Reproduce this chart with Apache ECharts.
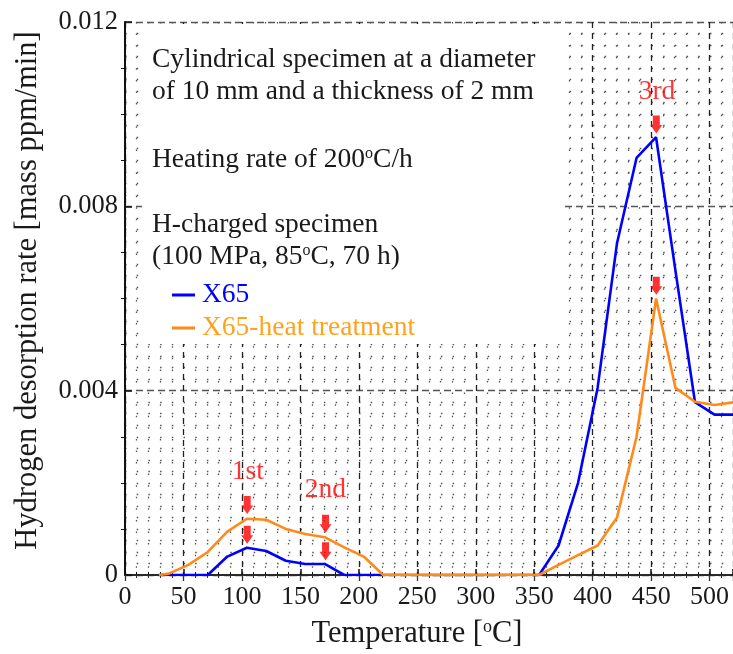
<!DOCTYPE html>
<html>
<head>
<meta charset="utf-8">
<script src="https://cdn.jsdelivr.net/npm/echarts@6/dist/echarts.min.js"></script>
<style>html,body{margin:0;padding:0;background:#fff;}#c{width:733px;height:654px;}</style>
</head>
<body>
<div id="c"></div>
<script>
// ---- data ----
var temperature = [29, 37.5, 54.2, 70.8, 87.5, 104.2, 120.8, 137.5, 154.2, 170.8, 187.5, 204.2, 220.8, 237.5, 254.2, 270.8, 287.5, 304.2, 320.8, 337.5, 354.2, 370.8, 387.5, 404.2, 420.8, 437.5, 454.2, 470.8, 487.5, 504.2, 520.8];
var x65 = [0, 0, 0, 0, 0.0004, 0.00059, 0.00052, 0.00031, 0.00024, 0.00024, 0, 0, 0, 0, 0, 0, 0, 0, 0, 0, 0, 0.00064, 0.002, 0.00406, 0.0072, 0.00905, 0.0095, 0.0066, 0.00375, 0.00348, 0.00348];
var x65Heat = [0, 0.00003, 0.00022, 0.0005, 0.00094, 0.00122, 0.0012, 0.001, 0.00089, 0.00082, 0.0006, 0.0004, 0, 0, 0, 0, 0, 0, 0, 0, 0, 0.00022, 0.00043, 0.00064, 0.00125, 0.003, 0.006, 0.00406, 0.00376, 0.00369, 0.00375];
var seriesNames = ['X65', 'X65-heat treatment'];
var peakArrowT = [104.5, 104.5, 171.5, 171.5, 454.4, 454.4];
var peakArrowV = [0.000677, 0.001326, 0.000318, 0.000915, 0.00958, 0.00608];
var peakLabels = ['1st', '2nd', '3rd'];
var peakLabelT = [105, 171.4, 455];
var peakLabelV = [0.00223, 0.00184, 0.01048];
var noteLines = ['Cylindrical specimen at a diameter', 'of 10 mm and a thickness of 2 mm', 'Heating rate of 200{s|o}C/h', 'H-charged specimen', '(100 MPa, 85{s|o}C, 70 h)'];
var xTickInterval = 50, yTickInterval = 0.004;

function pairs(xs, ys) { return xs.map(function (x, i) { return [x, ys[i]]; }); }

var FONT = '"Liberation Serif", "Times New Roman", serif';
var chart = echarts.init(document.getElementById('c'), null, {renderer: 'canvas'});

var noteY = [60, 92, 160, 225, 257];
var graphics = [{
  type: 'rect', z: 1, silent: true,
  shape: {x: 142, y: 24, width: 421, height: 320},
  style: {fill: '#ffffff'}
}];
noteLines.forEach(function (t, i) {
  graphics.push({
    type: 'text', z: 3, silent: true, x: 152, y: noteY[i],
    style: {
      text: t, fontFamily: FONT, fontSize: 27.5, fill: '#1a1a1a', verticalAlign: 'middle',
      rich: {s: {fontFamily: FONT, fontSize: 16, fill: '#1a1a1a', verticalAlign: 'top', lineHeight: 14}}
    }
  });
});

var option = {
  animation: false,
  backgroundColor: '#ffffff',
  grid: {left: 125, top: 22, right: 0, bottom: 76, containLabel: false},
  legend: {
    orient: 'vertical', left: 167, top: 276, itemWidth: 23, itemHeight: 3, itemGap: 5,
    icon: 'rect', selectedMode: false,
    textStyle: {fontFamily: FONT, fontSize: 27.5, padding: [0, 0, 0, 2]},
    data: [
      {name: seriesNames[0], textStyle: {color: '#0000ff'}},
      {name: seriesNames[1], textStyle: {color: '#ffa31f'}}
    ]
  },
  graphic: graphics,
  xAxis: [{
    type: 'value', min: 0, max: 520, interval: xTickInterval,
    name: 'Temperature [{s|o}C]', nameLocation: 'middle', nameGap: 43,
    nameTextStyle: {fontFamily: FONT, fontSize: 30.5, color: '#1a1a1a', padding: [0, 24, 0, 0],
      rich: {s: {fontFamily: FONT, fontSize: 18, color: '#1a1a1a', verticalAlign: 'top', lineHeight: 16}}},
    axisLine: {show: true, lineStyle: {color: '#111', width: 2}},
    axisTick: {show: true, inside: true, length: 6, lineStyle: {color: '#111', width: 1.5}},
    minorTick: {show: true, splitNumber: 5, length: 3, lineStyle: {color: '#111', width: 1}},
    axisLabel: {fontFamily: FONT, fontSize: 26, color: '#1a1a1a', margin: 9, showMaxLabel: false},
    splitLine: {show: true, lineStyle: {color: '#222', width: 1.3, type: [6, 5]}},
    minorSplitLine: {show: true, lineStyle: {color: '#555', width: 1.3, type: [1.5, 10.08]}}
  }, {
    type: 'value', min: 0, max: 520, interval: xTickInterval, position: 'top',
    axisLine: {show: true, lineStyle: {color: '#333', width: 1.5}},
    axisTick: {show: true, inside: true, length: 6, lineStyle: {color: '#333', width: 1.3}},
    minorTick: {show: true, splitNumber: 5, length: 3, lineStyle: {color: '#333', width: 1}},
    axisLabel: {show: false}, splitLine: {show: false}
  }],
  yAxis: [{
    type: 'value', min: 0, max: 0.012, interval: yTickInterval,
    name: 'Hydrogen desorption rate [mass ppm/min]', nameLocation: 'middle', nameGap: 82,
    nameTextStyle: {fontFamily: FONT, fontSize: 30.5, color: '#1a1a1a', padding: [0, 0, 0, 16]},
    axisLine: {show: true, lineStyle: {color: '#111', width: 2}},
    axisTick: {show: true, inside: true, length: 7, lineStyle: {color: '#111', width: 1.5}},
    minorTick: {show: false, splitNumber: 16},
    axisLabel: {fontFamily: FONT, fontSize: 26.5, color: '#1a1a1a', margin: 7,
      formatter: function (v) { return v === 0 ? '0' : v.toFixed(3); }},
    splitLine: {show: true, lineStyle: {color: '#555', width: 1.3, type: [7, 4]}},
    minorSplitLine: {show: true, lineStyle: {color: '#555', width: 1.3, type: [1.5, 10.2]}}
  }, {
    type: 'value', min: 0, max: 0.012, interval: yTickInterval, position: 'left',
    axisLine: {show: false}, axisTick: {show: false},
    minorTick: {show: true, splitNumber: 4, length: 4, lineStyle: {color: '#111', width: 1}},
    axisLabel: {show: false}, splitLine: {show: false}
  }],
  series: [{
    name: seriesNames[0], type: 'line', data: pairs(temperature, x65),
    showSymbol: false, symbol: 'none', color: '#0000ff', z: 3,
    lineStyle: {color: '#0000ff', width: 2.6}
  }, {
    name: seriesNames[1], type: 'line', data: pairs(temperature, x65Heat),
    showSymbol: false, symbol: 'none', color: '#ff8a1a', z: 3,
    lineStyle: {color: '#ff8a1a', width: 2.6}
  }, {
    type: 'scatter', data: pairs(peakArrowT, peakArrowV), silent: true, z: 5,
    symbol: 'path://M2.5,0 L9.5,0 L9.5,9 L12,9 L6,17 L0,9 L2.5,9 Z',
    symbolKeepAspect: false,
    symbolSize: [12, 18], symbolOffset: [0, '-50%'],
    itemStyle: {color: '#ff0000'}
  }, {
    type: 'scatter', silent: true, z: 5, symbolSize: 0,
    data: peakLabels.map(function (n, i) { return {name: n, value: [peakLabelT[i], peakLabelV[i]]}; }),
    label: {show: true, position: 'inside', formatter: '{b}', color: '#ff0000', fontFamily: FONT, fontSize: 27.5}
  }]
};
chart.setOption(option);
</script>
</body>
</html>
